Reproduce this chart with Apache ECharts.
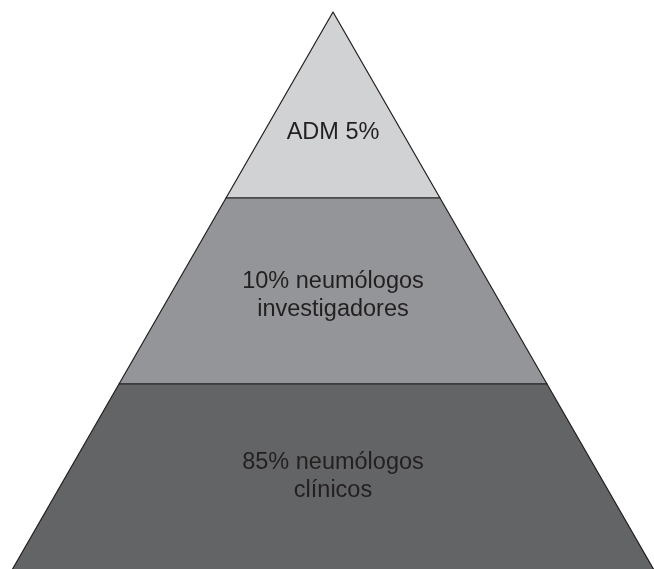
<!DOCTYPE html>
<html>
<head>
<meta charset="utf-8">
<script src="https://cdn.jsdelivr.net/npm/echarts@6/dist/echarts.min.js"></script>
<style>
html, body { margin: 0; padding: 0; background: #ffffff; }
#chart { width: 654px; height: 569px; }
</style>
</head>
<body>
<div id="chart"></div>
<script>
// Pyramid layers, top to bottom
const categories = ['ADM 5%', '10% neumólogos\ninvestigadores', '85% neumólogos\nclínicos'];
// Relative base width of each layer (pyramid geometry: equal-height layers)
const levelWidths = [1, 2, 3];

const layerColors = ['#d1d2d4', '#939598', '#636466'];
const labelStyles = ['l0', 'l1', 'l2'];

const baseText = {
  color: '#231f20',
  fontFamily: '"Liberation Sans", Arial, sans-serif',
  fontSize: 23.5,
  lineHeight: 28
};

const chart = echarts.init(document.getElementById('chart'), null, { renderer: 'canvas' });
chart.setOption({
  animation: false,
  backgroundColor: '#ffffff',
  series: [{
    type: 'funnel',
    sort: 'ascending',
    left: 12,
    top: 12,
    width: 642,
    height: 558,
    min: 0,
    max: 3,
    minSize: '0%',
    maxSize: '100%',
    gap: 0,
    funnelAlign: 'center',
    itemStyle: { borderColor: '#231f20', borderWidth: 1.2 },
    emphasis: { disabled: true },
    labelLine: { show: false },
    label: {
      show: true,
      position: 'inside',
      ...baseText,
      formatter: p => p.name.split('\n').map(s => '{' + labelStyles[p.dataIndex] + '|' + s + '}').join('\n'),
      rich: {
        l0: { ...baseText, padding: [56, 0, 0, 0] },
        l1: { ...baseText, padding: [9, 0, 0, 0] },
        l2: { ...baseText, padding: [0, 0, 0, 0] }
      }
    },
    data: categories.map((c, i) => ({
      name: c,
      value: levelWidths[i],
      itemStyle: { color: layerColors[i] }
    }))
  }]
});
</script>
</body>
</html>
